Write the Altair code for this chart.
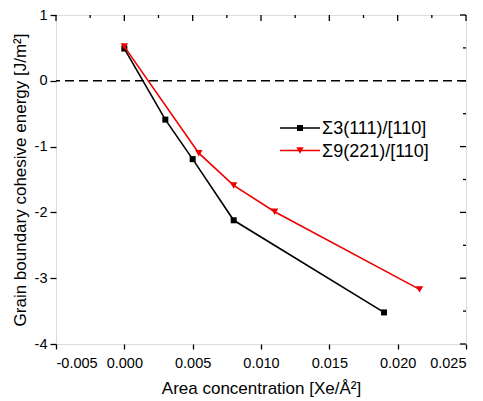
import altair as alt
import pandas as pd

# ---- data ----
s1_name = "Σ3(111)/[110]"
s1_x = [0.0, 0.003, 0.005, 0.008, 0.019]
s1_y = [0.49, -0.59, -1.19, -2.12, -3.52]

s2_name = "Σ9(221)/[110]"
s2_x = [0.0, 0.00545, 0.008, 0.011, 0.0216]
s2_y = [0.52, -1.10, -1.59, -1.99, -3.17]

x_ticks = [-0.005, -0.0025, 0.0, 0.0025, 0.005, 0.0075, 0.01, 0.0125,
           0.015, 0.0175, 0.02, 0.0225, 0.025]
y_ticks = [-4, -3.5, -3, -2.5, -2, -1.5, -1, -0.5, 0, 0.5, 1]

series_names = [s1_name, s2_name]
series_colors = ["#000000", "#ee0000"]
series_shapes = ["square", "triangle-down"]
series_sizes = [36, 55]

W, H = 410, 329
FONT = "Liberation Sans"

xs = alt.Scale(domain=[-0.005, 0.025], nice=False, zero=False)
ys = alt.Scale(domain=[-4, 1], nice=False, zero=False)

x_major_test = "abs(datum.value*200 - round(datum.value*200)) < 0.01"
y_major_test = "abs(datum.value - round(datum.value)) < 0.01"

x_axis = alt.Axis(
    values=x_ticks, grid=False, domain=False,
    labelExpr=f"{x_major_test} ? replace(format(datum.value, '.3f'), '\u2212', '-') : ''",
    tickSize={"condition": {"test": x_major_test, "value": 5}, "value": 3},
    tickColor="black", tickWidth=1.3, labelPadding=7,
    labelFont=FONT, labelFontSize=14.5, labelColor="black",
    title="Area concentration [Xe/Å²]", titleFont=FONT, titleFontSize=17,
    titleFontWeight="normal", titleColor="black", titlePadding=11,
)
y_axis = alt.Axis(
    values=y_ticks, grid=False, domain=False,
    labelExpr=f"{y_major_test} ? replace(format(datum.value, 'd'), '\u2212', '-') : ''",
    tickSize={"condition": {"test": y_major_test, "value": 6}, "value": 3},
    tickColor="black", tickWidth=1.3, labelPadding=3,
    labelFont=FONT, labelFontSize=14.5, labelColor="black",
    title="Grain boundary cohesive energy [J/m²]", titleFont=FONT, titleFontSize=17,
    titleFontWeight="normal", titleColor="black",
    titleX=-36, titleBaseline="middle",
)

rows = []
for name, xv, yv in [(s1_name, s1_x, s1_y), (s2_name, s2_x, s2_y)]:
    for i, (a, b) in enumerate(zip(xv, yv)):
        rows.append({"series": name, "x": a, "y": b, "order": i})
df = pd.DataFrame(rows)

zero_df = pd.DataFrame({"y": [0.0]})
zero_line = alt.Chart(zero_df).mark_rule(color="black", strokeWidth=1.5, strokeDash=[9, 5]).encode(
    y=alt.Y("y:Q", scale=ys, axis=y_axis)
)

layers = [zero_line]
for name, col, shp, sz in zip(series_names, series_colors, series_shapes, series_sizes):
    sub = df[df["series"] == name]
    base = alt.Chart(sub).encode(
        x=alt.X("x:Q", scale=xs, axis=x_axis),
        y=alt.Y("y:Q", scale=ys, axis=y_axis),
        order="order:Q",
    )
    layers.append(base.mark_line(color=col, strokeWidth=1.6))
    layers.append(base.mark_point(color=col, shape=shp, size=sz, filled=True, opacity=1))

# mirrored inward ticks on top and right
xt_df = pd.DataFrame({"v": x_ticks})
yt_df = pd.DataFrame({"v": y_ticks})
top_major = alt.Chart(xt_df).transform_filter(
    "abs(datum.v*200 - round(datum.v*200)) < 0.01"
).mark_rule(color="black", strokeWidth=1.3).encode(
    x=alt.X("v:Q", scale=xs), y=alt.value(0), y2=alt.value(6))
top_minor = alt.Chart(xt_df).transform_filter(
    "abs(datum.v*200 - round(datum.v*200)) >= 0.01"
).mark_rule(color="black", strokeWidth=1.3).encode(
    x=alt.X("v:Q", scale=xs), y=alt.value(0), y2=alt.value(3))
right_major = alt.Chart(yt_df).transform_filter(
    "abs(datum.v - round(datum.v)) < 0.01"
).mark_rule(color="black", strokeWidth=1.3).encode(
    y=alt.Y("v:Q", scale=ys), x=alt.value(W), x2=alt.value(W - 6))
right_minor = alt.Chart(yt_df).transform_filter(
    "abs(datum.v - round(datum.v)) >= 0.01"
).mark_rule(color="black", strokeWidth=1.3).encode(
    y=alt.Y("v:Q", scale=ys), x=alt.value(W), x2=alt.value(W - 3))
layers += [top_major, top_minor, right_major, right_minor]

# manual legend
leg_df = pd.DataFrame({"name": series_names, "k": [0, 1]})
for i, (name, col, shp, sz) in enumerate(zip(series_names, series_colors, series_shapes, series_sizes)):
    ly = 113 + i * 22.5
    one = alt.Chart(leg_df[leg_df["k"] == i])
    layers.append(one.mark_rule(color=col, strokeWidth=1.6).encode(
        x=alt.value(224), x2=alt.value(264), y=alt.value(ly)))
    layers.append(one.mark_point(color=col, shape=shp, size=sz, filled=True, opacity=1).encode(
        x=alt.value(244), y=alt.value(ly)))
    layers.append(one.mark_text(align="left", baseline="middle", font=FONT, fontSize=18,
                                color="black").encode(
        x=alt.value(266), y=alt.value(ly + 1), text="name:N"))

chart = alt.layer(*layers).properties(
    width=W, height=H,
    autosize=alt.AutoSizeParams(type="none"),
    padding={"left": 48, "top": 7, "right": 9, "bottom": 57},
).configure_view(stroke="black", strokeWidth=1.5).configure(background="white")

chart.save("out.html", embed_options={"renderer": "svg", "actions": False})
